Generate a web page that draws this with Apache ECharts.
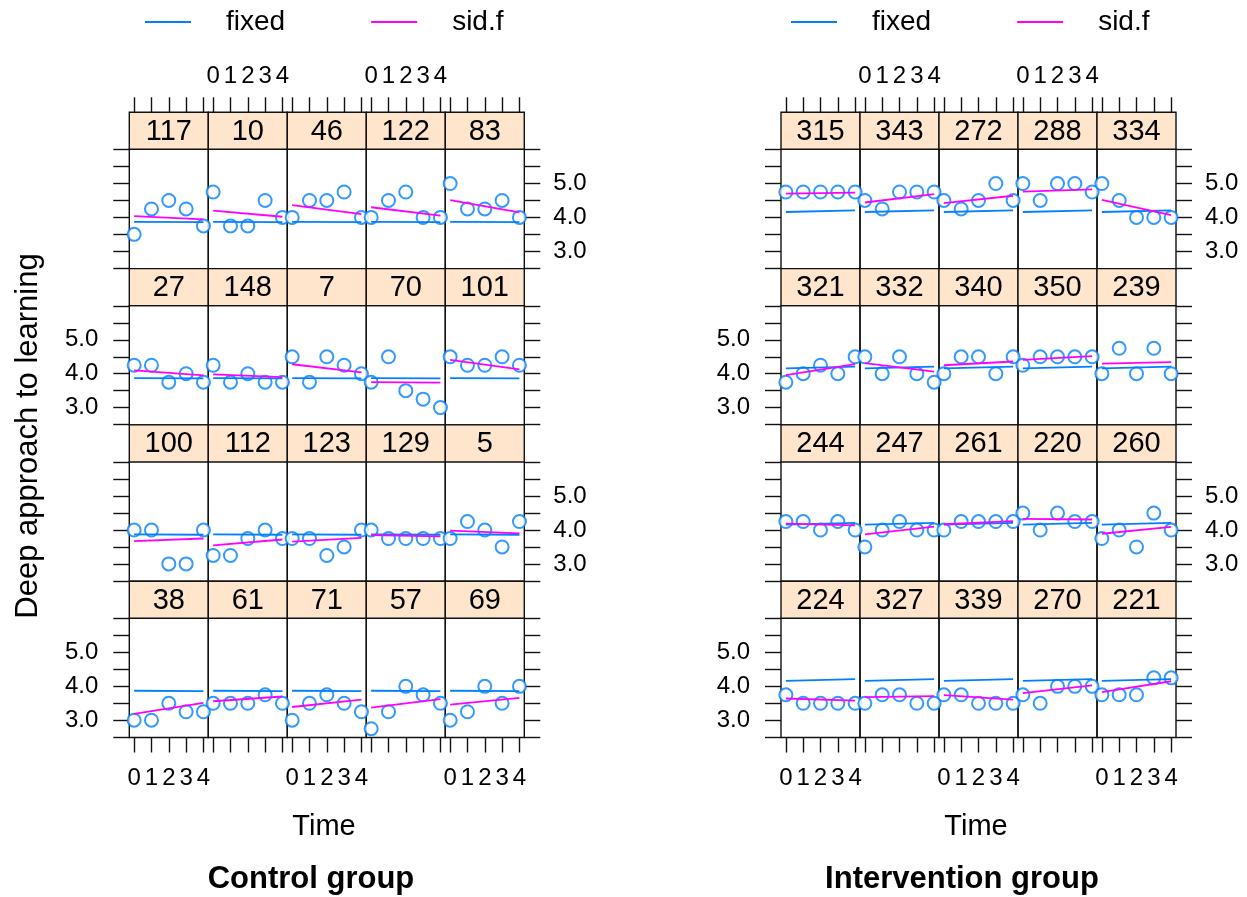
<!DOCTYPE html>
<html><head><meta charset="utf-8">
<script src="https://cdn.jsdelivr.net/npm/echarts@6/dist/echarts.min.js"></script>
<style>html,body{margin:0;padding:0;background:#fff}#c{width:1247px;height:897px}</style>
</head><body><div id="c"></div>
<script>
// ---------------- data ----------------
const times = [0, 1, 2, 3, 4];
const xTickValues = [0, 1, 2, 3, 4];
const yTickValues = [2.5, 3, 3.5, 4, 4.5, 5, 5.5, 6];
const yLabelValues = [3, 4, 5];
const legendNames = ['fixed', 'sid.f'];

const controlIds = ['117','10','46','122','83','27','148','7','70','101','100','112','123','129','5','38','61','71','57','69'];
const controlObs = [
  [3.5,4.25,4.5,4.25,3.75],[4.75,3.75,3.75,4.5,4],[4,4.5,4.5,4.75,4],[4,4.5,4.75,4,4],[5,4.25,4.25,4.5,4],
  [4.25,4.25,3.75,4,3.75],[4.25,3.75,4,3.75,3.75],[4.5,3.75,4.5,4.25,4],[3.75,4.5,3.5,3.25,3],[4.5,4.25,4.25,4.5,4.25],
  [4,4,3,3,4],[3.25,3.25,3.75,4,3.75],[3.75,3.75,3.25,3.5,4],[4,3.75,3.75,3.75,3.75],[3.75,4.25,4,3.5,4.25],
  [3,3,3.5,3.25,3.25],[3.5,3.5,3.5,3.75,3.5],[3,3.5,3.75,3.5,3.25],[2.75,3.25,4,3.75,3.5],[3,3.25,4,3.5,4]
];
const controlSid = [
  [4.04,3.94],[4.2,4.02],[4.36,4.1],[4.3,4.05],[4.51,4.15],
  [4.1,3.95],[3.98,3.9],[4.28,4.04],[3.75,3.74],[4.41,4.13],
  [3.67,3.75],[3.55,3.72],[3.66,3.77],[3.85,3.81],[3.98,3.9],
  [3.19,3.51],[3.56,3.7],[3.39,3.61],[3.37,3.62],[3.46,3.66]
];
const controlFixed = [3.87, 3.86];

const interventionIds = ['315','343','272','288','334','321','332','340','350','239','244','247','261','220','260','224','327','339','270','221'];
const interventionObs = [
  [4.75,4.75,4.75,4.75,4.75],[4.5,4.25,4.75,4.75,4.75],[4.5,4.25,4.5,5,4.5],[5,4.5,5,5,4.75],[5,4.5,4,4,4],
  [3.75,4,4.25,4,4.5],[4.5,4,4.5,4,3.75],[4,4.5,4.5,4,4.5],[4.25,4.5,4.5,4.5,4.5],[4,4.75,4,4.75,4],
  [4.25,4.25,4,4.25,4],[3.5,4,4.25,4,4],[4,4.25,4.25,4.25,4.25],[4.5,4,4.5,4.25,4.25],[3.75,4,3.5,4.5,4],
  [3.75,3.5,3.5,3.5,3.5],[3.5,3.75,3.75,3.5,3.5],[3.75,3.75,3.5,3.5,3.5],[3.75,3.5,4,4,4],[3.75,3.75,3.75,4.25,4.25]
];
const interventionSid = [
  [4.7,4.73],[4.44,4.69],[4.42,4.64],[4.76,4.83],[4.52,4.07],
  [3.96,4.28],[4.31,4.06],[4.25,4.36],[4.41,4.52],[4.3,4.34],
  [4.19,4.14],[3.87,4.1],[4.17,4.26],[4.33,4.31],[3.89,4.09],
  [3.64,3.58],[3.68,3.71],[3.74,3.61],[3.8,4.03],[3.83,4.15]
];
const interventionFixed = [4.16, 4.21];

// ---------------- layout ----------------
const FONT = "'Liberation Sans', Arial, Helvetica, sans-serif";
const BLUE = '#0080ff', MAGENTA = '#ff00ff', STRIP = '#ffe5cc';
const panelW = 79, stripH = 37, panelH = 119.3, top0 = 112.3, pitch = 156.3;
const xMin = -0.28, xMax = 4.28, yMin = 2.49, yMax = 6.01;

const groups = [
  {ids: controlIds, obs: controlObs, sid: controlSid, fixed: controlFixed, left: 129.3, title: 'Control group', titleX: 311, timeX: 324},
  {ids: interventionIds, obs: interventionObs, sid: interventionSid, fixed: interventionFixed, left: 781, title: 'Intervention group', titleX: 962, timeX: 976}
];

const grid = [], xAxis = [], yAxis = [], series = [], graphic = [];
const tickLine = {color: '#111', width: 1.4};
const lblBase = {color: '#000', fontSize: 24, fontFamily: FONT};
const noLine = {show: false, onZero: false};

groups.forEach((g) => {
  for (let r = 0; r < 4; r++) for (let c = 0; c < 5; c++) {
    const k = r * 5 + c;
    const L = g.left + c * panelW, T = top0 + r * pitch;
    const gi = grid.length;
    grid.push({left: L, top: T + stripH, width: panelW, height: panelH, show: true,
      borderColor: '#111', borderWidth: 1.4, backgroundColor: 'transparent'});
    const xi = xAxis.length;
    xAxis.push({type: 'value', gridIndex: gi, position: 'bottom', min: xMin, max: xMax,
      axisLine: noLine, splitLine: {show: false},
      axisTick: {show: r === 3, customValues: xTickValues, length: 15, lineStyle: tickLine},
      axisLabel: Object.assign({show: r === 3 && c % 2 === 0, customValues: xTickValues, margin: 29}, lblBase)});
    if (r === 0) {
      xAxis.push({type: 'value', gridIndex: gi, position: 'top', offset: stripH, min: xMin, max: xMax,
        axisLine: noLine, splitLine: {show: false},
        axisTick: {show: true, customValues: xTickValues, length: 15, lineStyle: tickLine},
        axisLabel: Object.assign({show: c % 2 === 1, customValues: xTickValues, margin: 24}, lblBase)});
    }
    const yi = yAxis.length;
    yAxis.push({type: 'value', gridIndex: gi, position: 'left', min: yMin, max: yMax,
      axisLine: noLine, splitLine: {show: false},
      axisTick: {show: c === 0, customValues: yTickValues, length: 16, lineStyle: tickLine},
      axisLabel: Object.assign({show: c === 0 && r % 2 === 1, customValues: yLabelValues, margin: 31,
        formatter: v => Number(v).toFixed(1)}, lblBase)});
    if (c === 4) {
      yAxis.push({type: 'value', gridIndex: gi, position: 'right', min: yMin, max: yMax,
        axisLine: noLine, splitLine: {show: false},
        axisTick: {show: true, customValues: yTickValues, length: 16, lineStyle: tickLine},
        axisLabel: Object.assign({show: r % 2 === 0, customValues: yLabelValues, margin: 29,
          formatter: v => Number(v).toFixed(1)}, lblBase)});
    }
    series.push({type: 'scatter', name: 'obs', xAxisIndex: xi, yAxisIndex: yi, silent: true,
      symbol: 'emptyCircle', symbolSize: 13, color: BLUE,
      itemStyle: {color: BLUE, borderColor: BLUE, borderWidth: 1.5},
      data: g.obs[k].map((v, i) => [times[i], v]), z: 3});
    series.push({type: 'line', name: 'fixed', xAxisIndex: xi, yAxisIndex: yi, silent: true,
      color: BLUE, showSymbol: false, symbol: 'none', lineStyle: {color: BLUE, width: 1.8},
      data: [[times[0], g.fixed[0]], [times[4], g.fixed[1]]], z: 4});
    series.push({type: 'line', name: 'sid.f', xAxisIndex: xi, yAxisIndex: yi, silent: true,
      color: MAGENTA, showSymbol: false, symbol: 'none', lineStyle: {color: MAGENTA, width: 1.8},
      data: [[times[0], g.sid[k][0]], [times[4], g.sid[k][1]]], z: 4});
    graphic.push({type: 'rect', shape: {x: L, y: T, width: panelW, height: stripH},
      style: {fill: STRIP, stroke: '#111', lineWidth: 1.4}, z: 1});
    graphic.push({type: 'text', x: L + panelW / 2, y: T + stripH / 2 + 1,
      style: {text: g.ids[k], fontSize: 29, fontFamily: FONT, fill: '#000', align: 'center', verticalAlign: 'middle'}, z: 2});
  }
  graphic.push({type: 'text', x: g.timeX, y: 827,
    style: {text: 'Time', fontSize: 29, fontFamily: FONT, fill: '#000', align: 'center', verticalAlign: 'middle'}});
  graphic.push({type: 'text', x: g.titleX, y: 879,
    style: {text: g.title, fontSize: 31, fontWeight: 'bold', fontFamily: FONT, fill: '#000', align: 'center', verticalAlign: 'middle'}});
});
graphic.push({type: 'text', x: 28, y: 436, rotation: Math.PI / 2,
  style: {text: 'Deep approach to learning', fontSize: 31, fontFamily: FONT, fill: '#000', align: 'center', verticalAlign: 'middle'}});

const legendBase = {data: legendNames, top: 3, icon: 'rect', itemWidth: 46, itemHeight: 2, itemGap: 86,
  selectedMode: false, textStyle: {fontSize: 28, fontFamily: FONT, color: '#000', padding: [0, 0, 0, 30]}};
const legend = [Object.assign({left: 140}, legendBase), Object.assign({left: 786}, legendBase)];

const chart = echarts.init(document.getElementById('c'), null, {renderer: 'canvas'});
chart.setOption({animation: false, backgroundColor: '#fff', grid, xAxis, yAxis, series, legend, graphic});
</script>
</body></html>
